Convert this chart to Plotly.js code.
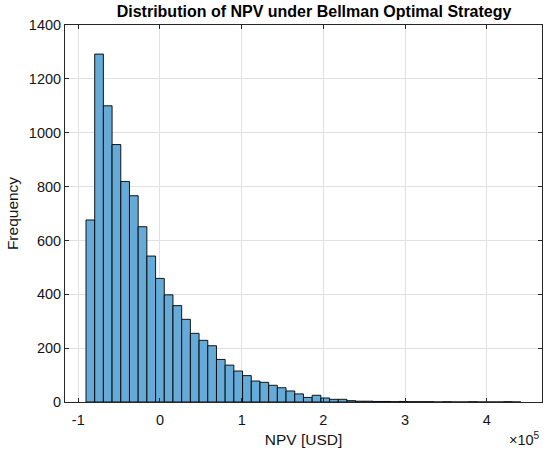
<!DOCTYPE html>
<html>
<head>
<meta charset="utf-8">
<script src="https://cdn.plot.ly/plotly-3.0.1.min.js"></script>
<style>html,body{margin:0;padding:0;background:#fff;}#chart{width:550px;height:457px;}</style>
</head>
<body>
<div id="chart"></div>
<script>
// Histogram counts per bin (50 bins)
var counts = [676, 1292, 1100, 956, 819, 766, 651, 542, 459, 398,
              358, 307, 255, 229, 209, 158, 137, 115, 98, 78,
              73, 62, 53, 41, 30, 17, 25, 15, 10, 10,
              5, 3, 3, 2, 2, 1, 2, 1, 1, 1,
              0, 1, 0, 0, 1, 0, 0, 0, 1, 0];
var firstBinCenter = -85275;   // USD
var binWidth = 10650;          // USD
var xTickVals = [-100000, 0, 100000, 200000, 300000, 400000];
var xTickText = ['-1', '0', '1', '2', '3', '4'];
var yTickVals = [0, 200, 400, 600, 800, 1000, 1200, 1400];

var font = 'Liberation Sans, Arial, Helvetica, sans-serif';
var trace = {
  type: 'bar',
  y: counts,
  x0: firstBinCenter,
  dx: binWidth,
  width: binWidth,
  marker: {color: 'rgb(102,170,215)', line: {color: 'rgb(0,0,0)', width: 0.9}},
  hoverinfo: 'x+y'
};
var axisCommon = {
  showline: true, mirror: 'ticks', linecolor: 'rgb(38,38,38)', linewidth: 1,
  ticks: 'inside', ticklen: 4, tickcolor: 'rgb(38,38,38)',
  showgrid: true, gridcolor: 'rgb(225,225,225)', gridwidth: 1,
  zeroline: false, tickfont: {family: font, size: 14.5, color: 'rgb(20,20,20)'}
};
var layout = {
  width: 550, height: 457,
  margin: {l: 65, r: 8, t: 25, b: 55},
  paper_bgcolor: '#fff', plot_bgcolor: '#fff',
  bargap: 0,
  showlegend: false,
  title: {text: '<b>Distribution of NPV under Bellman Optimal Strategy</b>',
          font: {family: font, size: 16, color: '#000'}, x: 0.571, xanchor: 'center', y: 0.974, yanchor: 'middle'},
  xaxis: Object.assign({}, axisCommon, {
    range: [-116300, 467700], tickmode: 'array', tickvals: xTickVals, ticktext: xTickText,
    ticklabelstandoff: 5,
    title: {text: 'NPV [USD]', font: {family: font, size: 15.5, color: 'rgb(20,20,20)'}, standoff: 6}
  }),
  yaxis: Object.assign({}, axisCommon, {
    range: [0, 1400], tickmode: 'array', tickvals: yTickVals,
    title: {text: 'Frequency', font: {family: font, size: 15.5, color: 'rgb(20,20,20)'}, standoff: 6}
  }),
  annotations: [{
    text: '×10<sup>5</sup>', xref: 'paper', yref: 'paper', x: 1.0, y: -0.068,
    xanchor: 'right', yanchor: 'top', showarrow: false,
    font: {family: font, size: 14.5, color: 'rgb(20,20,20)'}
  }]
};
Plotly.newPlot('chart', [trace], layout, {displayModeBar: false, staticPlot: true});
</script>
</body>
</html>
